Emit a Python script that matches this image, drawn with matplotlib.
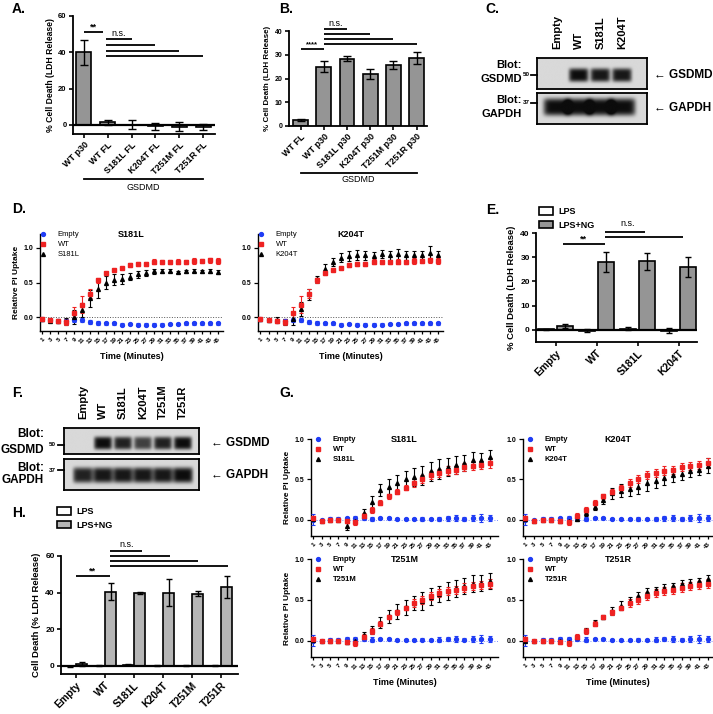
import numpy as np
import matplotlib
matplotlib.use('Agg')
import matplotlib.pyplot as plt
from matplotlib.lines import Line2D
from matplotlib.patches import Patch
from matplotlib.transforms import blended_transform_factory

plt.rcParams['font.family'] = ['Liberation Sans', 'DejaVu Sans']
plt.rcParams['font.weight'] = 'bold'
plt.rcParams['axes.labelweight'] = 'bold'

# ---------------- data ----------------
# A: full length vs p30, cell death
a_labels = ['WT p30', 'WT FL', 'S181L FL', 'K204T FL', 'T251M FL', 'T251R FL']
a_vals = [40.0, 1.5, 0.0, -0.8, -1.0, -1.0]
a_err = [7.0, 1.3, 2.5, 2.0, 2.5, 1.6]

# B: p30 constructs
b_labels = ['WT FL', 'WT p30', 'S181L p30', 'K204T p30', 'T251M p30', 'T251R p30']
b_vals = [2.5, 25.0, 28.3, 21.8, 25.7, 28.6]
b_err = [0.3, 2.2, 1.1, 2.2, 1.8, 2.5]

# C / F: western blot band intensities
c_lanes = ['Empty', 'WT', 'S181L', 'K204T']
c_gsdmd = [0.0, 1.0, 0.95, 0.95]
c_gapdh = [1.0, 1.0, 1.0, 1.0]
f_lanes = ['Empty', 'WT', 'S181L', 'K204T', 'T251M', 'T251R']
f_gsdmd = [0.0, 1.0, 0.9, 0.75, 0.9, 1.0]
f_gapdh = [0.9, 0.95, 0.95, 0.95, 0.95, 1.0]

# D: PI uptake time course (Empty / WT shared)
d_time = [1, 3, 5, 7, 9, 11, 13, 15, 17, 19, 21, 23, 25, 27, 29, 31, 33, 35, 37, 39, 41, 43, 45]
d_empty = [-0.03, -0.04, -0.05, -0.05, -0.04, -0.04, -0.07, -0.09, -0.09, -0.09, -0.11, -0.10,
           -0.11, -0.11, -0.11, -0.11, -0.10, -0.10, -0.09, -0.09, -0.09, -0.09, -0.09]
d_empty_err = [0.02, 0.02, 0.02, 0.03, 0.03, 0.03, 0.03, 0.03, 0.02, 0.02, 0.02, 0.02,
               0.02, 0.02, 0.02, 0.02, 0.02, 0.02, 0.02, 0.02, 0.02, 0.02, 0.02]
d_wt = [-0.02, -0.04, -0.05, -0.07, 0.06, 0.18, 0.34, 0.53, 0.63, 0.68, 0.71, 0.75,
        0.77, 0.77, 0.80, 0.79, 0.80, 0.80, 0.80, 0.81, 0.81, 0.82, 0.81]
d_wt_err = [0.02, 0.02, 0.03, 0.04, 0.09, 0.12, 0.07, 0.04, 0.02, 0.02, 0.02, 0.03,
            0.03, 0.03, 0.04, 0.03, 0.03, 0.04, 0.03, 0.04, 0.03, 0.04, 0.04]
d_s181l = [-0.03, -0.05, -0.06, -0.06, 0.0, 0.10, 0.27, 0.40, 0.50, 0.54, 0.55, 0.58,
           0.62, 0.64, 0.66, 0.66, 0.67, 0.65, 0.66, 0.67, 0.66, 0.67, 0.65]
d_s181l_err = [0.02, 0.02, 0.03, 0.05, 0.10, 0.10, 0.12, 0.12, 0.10, 0.08, 0.07, 0.05,
               0.05, 0.04, 0.04, 0.03, 0.02, 0.02, 0.02, 0.02, 0.02, 0.03, 0.03]
d_k204t = [-0.03, -0.04, -0.04, -0.07, -0.02, 0.12, 0.33, 0.55, 0.70, 0.80, 0.86, 0.88,
           0.90, 0.89, 0.88, 0.91, 0.89, 0.91, 0.89, 0.89, 0.89, 0.92, 0.89]
d_k204t_err = [0.02, 0.03, 0.04, 0.05, 0.10, 0.10, 0.08, 0.05, 0.06, 0.06, 0.06, 0.07,
               0.07, 0.07, 0.06, 0.06, 0.06, 0.08, 0.06, 0.06, 0.06, 0.10, 0.07]

# E: cell death, LPS vs LPS+NG
e_groups = ['Empty', 'WT', 'S181L', 'K204T']
e_lps = [0.2, -0.3, 0.5, -0.3]
e_lps_err = [0.3, 0.6, 0.7, 1.0]
e_lpsng = [1.5, 28.0, 28.3, 26.0]
e_lpsng_err = [0.8, 4.0, 3.4, 4.1]

# G: PI uptake time course (Empty / WT shared)
g_time = [1, 3, 5, 7, 9, 11, 13, 15, 17, 19, 21, 23, 25, 27, 29, 31, 33, 35, 37, 39, 41, 43]
g_empty = [0.0, 0.0, 0.01, 0.01, 0.02, 0.02, 0.02, 0.01, 0.02, 0.02, 0.01,
           0.01, 0.01, 0.01, 0.01, 0.01, 0.02, 0.02, 0.01, 0.02, 0.02, 0.02]
g_empty_err = [0.07, 0.01, 0.02, 0.02, 0.02, 0.03, 0.02, 0.03, 0.01, 0.01, 0.01,
               0.01, 0.01, 0.02, 0.01, 0.03, 0.03, 0.04, 0.02, 0.04, 0.05, 0.04]
g_wt = [0.02, -0.01, 0.0, 0.0, -0.02, -0.03, 0.05, 0.12, 0.21, 0.29, 0.35,
        0.40, 0.46, 0.50, 0.55, 0.58, 0.61, 0.62, 0.65, 0.67, 0.68, 0.70]
g_wt_err = [0.02, 0.01, 0.01, 0.01, 0.02, 0.03, 0.03, 0.04, 0.03, 0.03, 0.03,
            0.03, 0.05, 0.05, 0.05, 0.05, 0.05, 0.05, 0.05, 0.05, 0.05, 0.06]
g_s181l = [0.01, -0.01, 0.0, 0.0, -0.08, -0.01, 0.08, 0.22, 0.37, 0.41, 0.46,
           0.50, 0.53, 0.55, 0.60, 0.63, 0.65, 0.68, 0.70, 0.74, 0.74, 0.78]
g_s181l_err = [0.02, 0.01, 0.01, 0.02, 0.04, 0.03, 0.06, 0.07, 0.07, 0.10, 0.10,
               0.10, 0.11, 0.12, 0.12, 0.12, 0.11, 0.11, 0.10, 0.10, 0.09, 0.08]
g_k204t = [0.01, -0.01, 0.0, 0.0, -0.01, -0.02, 0.01, 0.09, 0.16, 0.25, 0.33,
           0.36, 0.38, 0.41, 0.45, 0.48, 0.52, 0.55, 0.57, 0.60, 0.62, 0.67]
g_k204t_err = [0.02, 0.01, 0.01, 0.01, 0.02, 0.02, 0.03, 0.04, 0.04, 0.06, 0.07,
               0.08, 0.08, 0.09, 0.09, 0.09, 0.09, 0.08, 0.08, 0.07, 0.07, 0.09]
g_t251m = [0.01, 0.0, 0.0, 0.0, -0.02, -0.01, 0.07, 0.13, 0.22, 0.30, 0.36,
           0.41, 0.46, 0.49, 0.54, 0.57, 0.61, 0.64, 0.67, 0.70, 0.71, 0.73]
g_t251m_err = [0.02, 0.01, 0.01, 0.01, 0.02, 0.02, 0.04, 0.05, 0.07, 0.08, 0.09,
               0.09, 0.09, 0.11, 0.10, 0.10, 0.11, 0.10, 0.10, 0.11, 0.10, 0.10]
g_t251r = [0.0, 0.0, 0.0, 0.0, -0.01, -0.02, 0.05, 0.13, 0.22, 0.29, 0.36,
           0.43, 0.49, 0.55, 0.59, 0.62, 0.65, 0.67, 0.70, 0.71, 0.73, 0.76]
g_t251r_err = [0.02, 0.01, 0.01, 0.01, 0.02, 0.02, 0.02, 0.03, 0.03, 0.03, 0.05,
               0.05, 0.05, 0.05, 0.05, 0.04, 0.04, 0.04, 0.04, 0.04, 0.04, 0.04]

# H: cell death, all mutants
h_groups = ['Empty', 'WT', 'S181L', 'K204T', 'T251M', 'T251R']
h_lps = [-0.3, 0.0, 0.5, 0.0, 0.0, 0.0]
h_lps_err = [0.3, 0.2, 0.3, 0.2, 0.2, 0.2]
h_lpsng = [1.0, 40.5, 40.0, 40.0, 39.5, 43.0]
h_lpsng_err = [1.0, 4.6, 0.5, 7.5, 1.5, 6.0]

# ---------------- figure ----------------
W, H = 713, 714
fig = plt.figure(figsize=(W / 100, H / 100), dpi=100)
GRAY = '#959595'
GRAY_H = '#b5b5b5'
BLUE = '#1f3cf5'
RED = '#ee2222'


def add_ax(x0, y0, x1, y1):
    return fig.add_axes([x0 / W, 1 - y1 / H, (x1 - x0) / W, (y1 - y0) / H])


def ftext(x, y, s, **kw):
    fig.text(x / W, 1 - y / H, s, **kw)


def fline(x0, y0, x1, y1, lw=1.3):
    fig.add_artist(Line2D([x0 / W, x1 / W], [1 - y0 / H, 1 - y1 / H],
                          transform=fig.transFigure, color='black', lw=lw))


def prism(ax, lw=1.3, size=5.5):
    for s in ['top', 'right']:
        ax.spines[s].set_visible(False)
    for s in ['left', 'bottom']:
        ax.spines[s].set_linewidth(lw)
    ax.tick_params(direction='out', length=3, width=lw * 0.9, labelsize=size, pad=1.5)


def sig(ax, x0, x1, y, lw=1.3):
    ax.plot([x0, x1], [y, y], color='black', lw=lw, clip_on=False, solid_capstyle='butt')


def group_line(ax, xa, xb, ypx, label, ytext):
    tr = blended_transform_factory(ax.transData, fig.transFigure)
    ax.plot([xa, xb], [1 - ypx / H] * 2, transform=tr, color='black', lw=1.3, clip_on=False)
    ax.text((xa + xb) / 2, 1 - ytext / H, label, transform=tr, ha='center', va='center', fontsize=6.5,
            fontweight='normal')


# ---------- A ----------
axA = add_ax(73, 16, 215, 134)
xa = np.arange(len(a_labels))
axA.bar(xa, a_vals, width=0.63, color=GRAY, edgecolor='black', linewidth=1.2, zorder=2)
axA.errorbar(xa, a_vals, yerr=a_err, fmt='none', ecolor='black', elinewidth=1, capsize=3, capthick=1, zorder=3)
axA.axhline(0, color='black', lw=1.6, zorder=4)
prism(axA)
axA.set_yticks([0, 20, 40, 60])
axA.set_xticks(xa)
axA.set_xticklabels(a_labels, rotation=45, ha='right', rotation_mode='anchor', fontsize=6.5)
axA.set_ylabel('% Cell Death (LDH Release)', fontsize=6.2, labelpad=2)
sig(axA, 0, 0.8, 51)
axA.text(0.4, 51.3, '**', ha='center', va='bottom', fontsize=6.5)
sig(axA, 0.92, 2, 47.3)
axA.text(1.45, 47.8, 'n.s.', ha='center', va='bottom', fontsize=6.5, fontweight='normal')
for k, yv in zip([3, 4, 5], [44, 40.7, 38]):
    sig(axA, 0.92, k, yv)
group_line(axA, 0, 5, 179, 'GSDMD', 187)
axA.set_ylim(-5, 60)
axA.set_xlim(-0.46, 5.5)

# ---------- B ----------
axB = add_ax(289, 31, 427, 126)
xb = np.arange(len(b_labels))
axB.bar(xb, b_vals, width=0.64, color=GRAY, edgecolor='black', linewidth=1.2, zorder=2)
axB.errorbar(xb, b_vals, yerr=b_err, fmt='none', ecolor='black', elinewidth=1, capsize=3, capthick=1, zorder=3)
prism(axB, size=5)
axB.set_yticks([0, 10, 20, 30, 40])
axB.set_xticks(xb)
axB.set_xticklabels(b_labels, rotation=45, ha='right', rotation_mode='anchor', fontsize=6.5)
axB.set_ylabel('% Cell Death (LDH Release)', fontsize=5.8, labelpad=3)
sig(axB, 0, 1, 32.4)
axB.text(0.5, 32.6, '****', ha='center', va='bottom', fontsize=5.5)
sig(axB, 1, 2, 40.8)
axB.text(1.5, 41.3, 'n.s.', ha='center', va='bottom', fontsize=6.5, fontweight='normal')
for k, yv in zip([3, 4, 5], [38.7, 36.6, 34.5]):
    sig(axB, 1, k, yv)
group_line(axB, 0, 5, 173, 'GSDMD', 180)
axB.set_ylim(0, 40)
axB.set_xlim(-0.5, 5.45)


# ---------- blots ----------
def blot(x0, y0, x1, y1, xlim, intens, yc, half_h, band_w):
    ax = add_ax(x0, y0, x1, y1)
    xs = np.linspace(xlim[0], xlim[1], 400)
    ys = np.linspace(0, 1, 120)
    X, Y = np.meshgrid(xs, ys)
    img = np.zeros_like(X)
    for i, v in enumerate(intens):
        img += v * np.exp(-((X - i) / band_w) ** 6) * np.exp(-((Y - yc) / half_h) ** 4)
    img = np.clip(img, 0, 1)
    ax.imshow(0.85 - 0.8 * img, cmap='gray', vmin=0, vmax=1, origin='lower', aspect='auto',
              extent=[xlim[0], xlim[1], 0, 1], interpolation='bilinear')
    ax.set_xlim(xlim)
    ax.set_ylim(0, 1)
    ax.set_xticks([])
    ax.set_yticks([])
    for s in ax.spines.values():
        s.set_linewidth(1.3)
    return ax


# C
c_xlim = (-0.92, 4.15)
axC1 = blot(537, 58, 647, 89, c_xlim, c_gsdmd, 0.45, 0.22, 0.45)
axC2 = blot(537, 93, 647, 124, c_xlim, c_gapdh, 0.55, 0.28, 0.62)
trC = blended_transform_factory(axC1.transData, fig.transFigure)
for i, lab in enumerate(c_lanes):
    axC1.text(i, 1 - 49 / H, lab, transform=trC, rotation=90, ha='center', va='bottom', fontsize=8)
ftext(522, 65, 'Blot:', ha='right', va='center', fontsize=8)
ftext(522, 79, 'GSDMD', ha='right', va='center', fontsize=8)
ftext(522, 100, 'Blot:', ha='right', va='center', fontsize=8)
ftext(522, 114, 'GAPDH', ha='right', va='center', fontsize=8)
ftext(530, 74, '50', ha='right', va='center', fontsize=4.5)
ftext(530, 102, '37', ha='right', va='center', fontsize=4.5)
fline(531, 75, 537, 75)
fline(531, 103, 537, 103)
ftext(654, 75, '← GSDMD', ha='left', va='center', fontsize=8.5)
ftext(654, 108, '← GAPDH', ha='left', va='center', fontsize=8.5)

# F
f_xlim = (-0.95, 5.8)
axF1 = blot(64, 428, 199, 454, f_xlim, f_gsdmd, 0.42, 0.25, 0.45)
axF2 = blot(64, 459, 199, 490, f_xlim, f_gapdh, 0.48, 0.25, 0.5)
trF = blended_transform_factory(axF1.transData, fig.transFigure)
for i, lab in enumerate(f_lanes):
    axF1.text(i, 1 - 419 / H, lab, transform=trF, rotation=90, ha='center', va='bottom', fontsize=8)
ftext(44, 434, 'Blot:', ha='right', va='center', fontsize=8.5)
ftext(44, 450, 'GSDMD', ha='right', va='center', fontsize=8.5)
ftext(44, 468, 'Blot:', ha='right', va='center', fontsize=8.5)
ftext(44, 480, 'GAPDH', ha='right', va='center', fontsize=8.5)
ftext(56, 445, '50', ha='right', va='center', fontsize=4.5)
ftext(56, 470, '37', ha='right', va='center', fontsize=4.5)
fline(58, 445, 64, 445)
fline(58, 470, 64, 470)
ftext(211, 443, '← GSDMD', ha='left', va='center', fontsize=8.5)
ftext(211, 475, '← GAPDH', ha='left', va='center', fontsize=8.5)


# ---------- time courses ----------
def timecourse(box, t, mut, mut_err, name, empty, empty_err, wt, wt_err, ylim, xlim, yticks,
               leg_pos, leg_weight, zero_col, ylabel=False, xlabel=False, tick_fs=4.5):
    ax = add_ax(*box)
    x = np.arange(len(t))
    ax.axhline(0, color=zero_col, lw=0.7, ls=':', zorder=1)
    kw = dict(ms=2.8, capsize=1.6, elinewidth=0.8, capthick=0.8, lw=0, zorder=3)
    ax.errorbar(x, empty, yerr=empty_err, fmt='o', color=BLUE, **kw)
    ax.errorbar(x, mut, yerr=mut_err, fmt='^', color='black', **kw)
    ax.errorbar(x, wt, yerr=wt_err, fmt='s', color=RED, **kw)
    prism(ax, lw=1.0, size=5)
    ax.set_xticks(x)
    ax.set_xticklabels(t, rotation=45, ha='right', rotation_mode='anchor', fontsize=tick_fs)
    ax.tick_params(axis='x', length=2.5)
    ax.set_yticks(yticks)
    ax.set_yticklabels(['%.1f' % v for v in yticks])
    ax.set_ylim(ylim)
    ax.set_xlim(xlim)
    ax.text(0.5, 1.0, name, transform=ax.transAxes, ha='center', va='center', fontsize=6.5)
    handles = [Line2D([], [], marker='o', color=BLUE, lw=0, ms=2.8),
               Line2D([], [], marker='s', color=RED, lw=0, ms=2.8),
               Line2D([], [], marker='^', color='black', lw=0, ms=2.8)]
    ax.legend(handles, ['Empty', 'WT', name], loc='upper left',
              bbox_to_anchor=(leg_pos[0] / W, 1 - leg_pos[1] / H), bbox_transform=fig.transFigure,
              frameon=False, borderpad=0, borderaxespad=0, handlelength=0.6, handletextpad=1.6,
              labelspacing=0.35, prop={'size': 5.5, 'weight': leg_weight})
    if ylabel:
        ax.set_ylabel('Relative PI Uptake', fontsize=6, labelpad=3)
    if xlabel:
        ax.set_xlabel('Time (Minutes)', fontsize=6.5, labelpad=5)
    return ax


timecourse((40, 234, 223, 331), d_time, d_s181l, d_s181l_err, 'S181L', d_empty, d_empty_err, d_wt, d_wt_err,
           (-0.2, 1.2), (-0.3, 22.6), [0.0, 0.5, 1.0], (41, 231), 'normal', '#555555',
           ylabel=True, xlabel=True)
timecourse((258, 234, 443, 331), d_time, d_k204t, d_k204t_err, 'K204T', d_empty, d_empty_err, d_wt, d_wt_err,
           (-0.2, 1.2), (-0.3, 22.6), [0.0, 0.5, 1.0], (259, 231), 'normal', '#555555',
           xlabel=True)

g_ylim = (-0.2, 1.0)
timecourse((311, 439, 498, 536), g_time, g_s181l, g_s181l_err, 'S181L', g_empty, g_empty_err, g_wt, g_wt_err,
           g_ylim, (-0.25, 22.0), [0.0, 0.5, 1.0], (316, 436), 'bold', '#7f8fff', ylabel=True)
timecourse((523, 439, 713, 536), g_time, g_k204t, g_k204t_err, 'K204T', g_empty, g_empty_err, g_wt, g_wt_err,
           g_ylim, (-0.25, 21.6), [0.0, 0.5, 1.0], (528, 436), 'bold', '#7f8fff')
timecourse((311, 559, 498, 657), g_time, g_t251m, g_t251m_err, 'T251M', g_empty, g_empty_err, g_wt, g_wt_err,
           g_ylim, (-0.25, 22.0), [0.0, 0.5, 1.0], (316, 556), 'bold', '#7f8fff', ylabel=True, xlabel=True)
timecourse((523, 559, 713, 657), g_time, g_t251r, g_t251r_err, 'T251R', g_empty, g_empty_err, g_wt, g_wt_err,
           g_ylim, (-0.25, 21.6), [0.0, 0.5, 1.0], (528, 556), 'bold', '#7f8fff', xlabel=True)


# ---------- grouped bars (E, H) ----------
def grouped(box, groups, lps, lps_err, lpsng, lpsng_err, off, width, gray, yticks, ylabel, lab_fs):
    ax = add_ax(*box)
    x = np.arange(len(groups))
    ax.bar(x - off, lps, width=width, color='white', edgecolor='black', linewidth=1.2, zorder=2)
    ax.bar(x + off, lpsng, width=width, color=gray, edgecolor='black', linewidth=1.2, zorder=2)
    ek = dict(fmt='none', ecolor='black', elinewidth=1, capsize=2.5, capthick=1, zorder=3)
    ax.errorbar(x - off, lps, yerr=lps_err, **ek)
    ax.errorbar(x + off, lpsng, yerr=lpsng_err, **ek)
    ax.axhline(0, color='black', lw=1.6, zorder=4)
    prism(ax, size=6)
    ax.set_xticks(x)
    ax.set_xticklabels(groups, rotation=45, ha='right', rotation_mode='anchor', fontsize=lab_fs)
    ax.set_yticks(yticks)
    ax.set_ylabel(ylabel, fontsize=6.8, labelpad=3)
    return ax


axE = grouped((536, 233, 697, 342), e_groups, e_lps, e_lps_err, e_lpsng, e_lpsng_err, 0.23, 0.4, GRAY,
              [0, 10, 20, 30, 40], '% Cell Death (LDH Release)', 7.5)
sig(axE, 0.17, 1.21, 35.5)
axE.text(0.69, 35.8, '**', ha='center', va='bottom', fontsize=6.5)
sig(axE, 1.21, 2.17, 40.4)
sig(axE, 1.21, 3.12, 38.4)
axE.text(1.75, 42.0, 'n.s.', ha='center', va='bottom', fontsize=6.5, fontweight='normal')
axE.set_ylim(-5, 40)
axE.set_xlim(-0.48, 3.45)
lh = [Patch(facecolor='white', edgecolor='black', lw=1.2, label='LPS'),
      Patch(facecolor=GRAY, edgecolor='black', lw=1.2, label='LPS+NG')]
fig.legend(handles=lh, loc='upper left', bbox_to_anchor=(539 / W, 1 - 207 / H), frameon=False,
           fontsize=6.5, handlelength=1.5, handleheight=0.9, handletextpad=0.6, labelspacing=0.5,
           borderpad=0, borderaxespad=0)

axH = grouped((61, 556, 238, 674), h_groups, h_lps, h_lps_err, h_lpsng, h_lpsng_err, 0.2, 0.37, GRAY_H,
              [0, 20, 40, 60], 'Cell Death (% LDH Release)', 7.5)
sig(axH, 0, 1.17, 49)
axH.text(0.58, 49.3, '**', ha='center', va='bottom', fontsize=6.5)
for k, yv in zip([2.26, 3.24, 4.2, 5.24], [62.7, 60, 57, 54.5]):
    sig(axH, 1.17, k, yv)
axH.text(1.75, 64, 'n.s.', ha='center', va='bottom', fontsize=6.5, fontweight='normal')
axH.set_ylim(-4.5, 60)
axH.set_xlim(-0.52, 5.59)
lh2 = [Patch(facecolor='white', edgecolor='black', lw=1.2, label='LPS'),
       Patch(facecolor=GRAY_H, edgecolor='black', lw=1.2, label='LPS+NG')]
fig.legend(handles=lh2, loc='upper left', bbox_to_anchor=(57 / W, 1 - 507 / H), frameon=False,
           fontsize=6.5, handlelength=1.5, handleheight=0.9, handletextpad=0.6, labelspacing=0.5,
           borderpad=0, borderaxespad=0)

# ---------- panel letters ----------
for lab, x, y in [('A.', 12, 2), ('B.', 279, 2), ('C.', 485, 2), ('D.', 12, 202), ('E.', 486, 203),
                  ('F.', 12, 386), ('G.', 279, 386), ('H.', 12, 506)]:
    ftext(x, y, lab, ha='left', va='top', fontsize=10)

fig.savefig('out.png', dpi=100)
